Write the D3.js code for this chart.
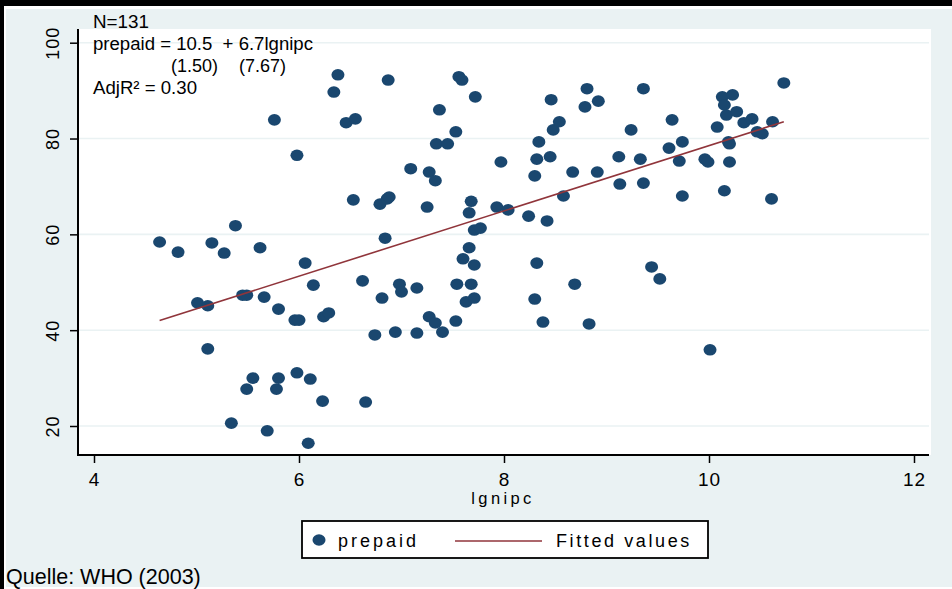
<!DOCTYPE html>
<html>
<head>
<meta charset="utf-8">
<script src="https://cdn.jsdelivr.net/npm/d3@7"></script>
<style>
  body { margin: 0; background: #fff; }
  svg text { font-family: Arial, "Liberation Sans", sans-serif; fill: #000; white-space: pre; }
</style>
</head>
<body>
<svg class="MainSvg"></svg>
<script>
    // lgnipc (x) and prepaid (y)
    var lgnipc = [
        4.64, 4.82, 5.01, 5.11, 5.11, 5.15, 5.27, 5.38, 5.34, 5.45,
        5.49, 5.55, 5.49, 5.62, 5.66, 5.69, 5.76, 5.78, 5.80, 5.80,
        5.96, 6.00, 5.98, 5.98, 6.06, 6.09, 6.11, 6.14, 6.23, 6.24,
        6.29, 6.34, 6.38, 6.46, 6.55, 6.53, 6.62, 6.65, 6.74, 6.79,
        6.81, 6.84, 6.86, 6.87, 6.88, 6.94, 6.98, 7.00, 7.09, 7.15,
        7.15, 7.25, 7.27, 7.27, 7.33, 7.33, 7.34, 7.37, 7.40, 7.45,
        7.53, 7.53, 7.56, 7.59, 7.60, 7.63, 7.54, 7.68, 7.71, 7.66,
        7.68, 7.66, 7.71, 7.77, 7.71, 7.72, 7.93, 7.97, 8.04, 8.24,
        8.30, 8.32, 8.34, 8.30, 8.32, 8.38, 8.42, 8.45, 8.46, 8.48,
        8.54, 8.58, 8.67, 8.69, 8.79, 8.81, 8.83, 8.91, 8.92, 9.12,
        9.13, 9.24, 9.33, 9.36, 9.36, 9.44, 9.52, 9.61, 9.64, 9.71,
        9.74, 9.74, 9.96, 9.99, 10.01, 10.08, 10.13, 10.15, 10.15, 10.17,
        10.19, 10.20, 10.20, 10.23, 10.27, 10.34, 10.42, 10.47, 10.52, 10.61,
        10.62, 10.73
    ];
    var prepaid = [
        58.4, 56.3, 45.7, 45.1, 36.1, 58.2, 56.1, 61.8, 20.6, 47.3,
        47.3, 30.0, 27.7, 57.2, 46.9, 19.0, 83.9, 27.7, 30.0, 44.4,
        42.1, 42.1, 76.5, 31.1, 54.0, 16.4, 29.8, 49.4, 25.2, 42.8,
        43.6, 89.7, 93.3, 83.3, 84.1, 67.2, 50.3, 25.0, 39.0, 66.3,
        46.7, 59.2, 67.4, 92.2, 67.8, 39.6, 49.6, 48.0, 73.7, 48.8,
        39.4, 65.7, 42.8, 73.0, 41.5, 71.2, 78.9, 86.0, 39.6, 78.9,
        41.9, 81.4, 92.9, 92.2, 54.9, 45.9, 49.6, 49.6, 46.7, 57.2,
        66.9, 64.5, 60.9, 61.3, 53.6, 88.7, 65.7, 75.1, 65.1, 63.8,
        72.2, 75.7, 79.3, 46.5, 54.0, 41.7, 62.8, 76.2, 88.1, 81.8,
        83.5, 68.0, 73.0, 49.6, 86.6, 90.4, 41.3, 73.0, 87.8, 76.2,
        70.5, 81.8, 75.7, 70.7, 90.4, 53.2, 50.7, 78.0, 83.9, 75.3,
        79.3, 68.0, 75.7, 75.1, 35.9, 82.4, 88.7, 87.0, 69.1, 84.9,
        79.3, 78.9, 75.1, 89.1, 85.6, 83.3, 84.1, 81.4, 81.0, 67.4,
        83.5, 91.6
    ];
    // fitted line end points
    var fitX = [4.64, 10.73];
    var fitY = [42.0, 83.5];

    var xTicks = [4, 6, 8, 10, 12];
    var yTicks = [20, 40, 60, 80, 100];

    var width = 952, height = 589;
    var bg = "#eaf2f3", navy = "#1a476f", maroon = "#90353b";
    var plot = { left: 78, right: 931, top: 29, bottom: 455 };

    var xScale = d3.scaleLinear().domain([4, 12]).range([94, 914]);
    var yScale = d3.scaleLinear().domain([20, 100]).range([426, 42.7]);

    var svg = d3.select(".MainSvg")
        .attr("width", width)
        .attr("height", height);

    // outer frame
    svg.append("rect").attr("width", width).attr("height", height).attr("fill", "#fff");
    svg.append("rect").attr("x", 6).attr("y", 9).attr("width", width - 6).attr("height", 578).attr("fill", bg);
    svg.append("rect").attr("x", 0).attr("y", 0).attr("width", width).attr("height", 6).attr("fill", "#000");
    svg.append("rect").attr("x", 0).attr("y", 0).attr("width", 4).attr("height", height).attr("fill", "#000");

    // plot region
    svg.append("rect")
        .attr("x", plot.left).attr("y", plot.top)
        .attr("width", plot.right - plot.left).attr("height", plot.bottom - plot.top)
        .attr("fill", "#fff");

    // grid lines
    svg.append("g").selectAll("line")
        .data(yTicks)
        .enter()
        .append("line")
        .attr("x1", plot.left).attr("x2", plot.right - 2)
        .attr("y1", function (d) { return yScale(d); })
        .attr("y2", function (d) { return yScale(d); })
        .attr("stroke", bg).attr("stroke-width", 1.6);

    // axes
    var xAxis = d3.axisBottom(xScale).tickValues(xTicks).tickSize(8).tickPadding(6);
    var yAxis = d3.axisLeft(yScale).tickValues(yTicks).tickSize(8).tickPadding(6);

    var gx = svg.append("g")
        .attr("transform", "translate(0," + plot.bottom + ")")
        .call(xAxis);
    gx.select(".domain").remove();
    gx.selectAll(".tick line").attr("stroke", "#000").attr("stroke-width", 1.5);
    gx.selectAll(".tick text")
        .attr("y", 31).attr("dy", null)
        .attr("font-size", 19).attr("letter-spacing", 1)
        .attr("font-family", "Arial, 'Liberation Sans', sans-serif");
    gx.append("line").attr("x1", plot.left - 1).attr("x2", plot.right - 2)
        .attr("y1", 0).attr("y2", 0).attr("stroke", "#000").attr("stroke-width", 2);

    var gy = svg.append("g")
        .attr("transform", "translate(" + plot.left + ",0)")
        .call(yAxis);
    gy.select(".domain").remove();
    gy.selectAll(".tick line").attr("stroke", "#000").attr("stroke-width", 1.5);
    gy.selectAll(".tick text")
        .attr("x", null).attr("dy", null)
        .attr("text-anchor", "middle")
        .attr("transform", "translate(-19,0) rotate(-90)")
        .attr("y", 0)
        .attr("font-size", 18).attr("letter-spacing", 1)
        .attr("font-family", "Arial, 'Liberation Sans', sans-serif");
    gy.append("line").attr("x1", 0).attr("x2", 0)
        .attr("y1", plot.top).attr("y2", plot.bottom + 1)
        .attr("stroke", "#000").attr("stroke-width", 2);

    // x title
    svg.append("text")
        .attr("x", 503).attr("y", 504)
        .attr("text-anchor", "middle")
        .attr("font-size", 16.5).attr("letter-spacing", 3.4)
        .text("lgnipc");

    // points
    var pts = lgnipc.map(function (d, i) { return { x: d, y: prepaid[i] }; });
    svg.append("g").selectAll("ellipse")
        .data(pts)
        .enter()
        .append("ellipse")
        .attr("cx", function (d) { return xScale(d.x); })
        .attr("cy", function (d) { return yScale(d.y); })
        .attr("rx", 6.5).attr("ry", 5.8)
        .attr("fill", navy);

    // fitted line
    var fit = fitX.map(function (d, i) { return [d, fitY[i]]; });
    svg.append("path")
        .datum(fit)
        .attr("d", d3.line()
            .x(function (d) { return xScale(d[0]); })
            .y(function (d) { return yScale(d[1]); }))
        .attr("fill", "none").attr("stroke", maroon).attr("stroke-width", 1.6);

    // regression annotation
    var note = svg.append("g").attr("font-size", 17.5);
    note.append("text").attr("x", 93).attr("y", 27.5).attr("textLength", 56).attr("lengthAdjust", "spacingAndGlyphs").text("N=131");
    note.append("text").attr("x", 93).attr("y", 49.5).attr("textLength", 220).attr("lengthAdjust", "spacingAndGlyphs").text("prepaid = 10.5  + 6.7lgnipc");
    note.append("text").attr("x", 171).attr("y", 72).attr("textLength", 47).attr("lengthAdjust", "spacingAndGlyphs").text("(1.50)");
    note.append("text").attr("x", 239).attr("y", 72).attr("textLength", 47).attr("lengthAdjust", "spacingAndGlyphs").text("(7.67)");
    note.append("text").attr("x", 93).attr("y", 93.5).attr("textLength", 104).attr("lengthAdjust", "spacingAndGlyphs").text("AdjR\u00b2 = 0.30");

    // legend
    var lg = svg.append("g");
    lg.append("rect")
        .attr("x", 302).attr("y", 521).attr("width", 406).attr("height", 37)
        .attr("fill", "#fff").attr("stroke", "#000").attr("stroke-width", 1.8);
    lg.append("ellipse").attr("cx", 319).attr("cy", 540).attr("rx", 6.5).attr("ry", 5.8).attr("fill", navy);
    lg.append("text").attr("x", 338).attr("y", 547).attr("font-size", 18).attr("letter-spacing", 3).text("prepaid");
    lg.append("line").attr("x1", 455).attr("x2", 542).attr("y1", 541).attr("y2", 541)
        .attr("stroke", maroon).attr("stroke-width", 1.6);
    lg.append("text").attr("x", 556).attr("y", 547).attr("font-size", 18).attr("letter-spacing", 2.6).text("Fitted values");

    // source note
    svg.append("text")
        .attr("x", 6).attr("y", 584)
        .attr("font-size", 21.5)
        .text("Quelle: WHO (2003)");
</script>
</body>
</html>
